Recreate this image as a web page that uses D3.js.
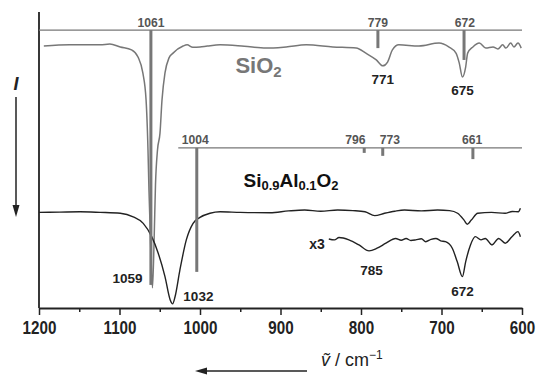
<!DOCTYPE html>
<html>
<head>
<meta charset="utf-8">
<script src="https://cdn.jsdelivr.net/npm/d3@7"></script>
<style>
  body { margin: 0; background: #fff; }
  text { font-family: "Liberation Sans", Arial, sans-serif; }
</style>
</head>
<body>
<div id="chart"></div>
<script>
const width = 536;
const height = 376;
const margin = { top: 12, right: 14, bottom: 68, left: 39 };

const gray = "#777";
const dark = "#222";

// x axis ticks (wavenumber, cm-1)
const majorTicks = [1200, 1100, 1000, 900, 800, 700, 600];
const minorTicks = [1150, 1050, 950, 850, 750, 650];

// SiO2 spectrum [wavenumber, intensity a.u.]
const sio2 = [
  [1194, 88.5], [1162, 88.9], [1124, 88.9], [1112, 89.2], [1099, 88.2], [1085, 87.2],
  [1077, 84.8], [1071, 79.4], [1067, 70.3], [1064.6, 53.4], [1063.4, 39.9], [1061.5, 23.0],
  [1059, 6.8], [1057, 23.0], [1055.3, 41.6], [1052.8, 53.4], [1049.7, 59.1], [1047.2, 70.3],
  [1043.5, 79.4], [1038.5, 84.5], [1033.5, 86.1], [1021, 88.5], [1016, 88.9], [1009, 88.1],
  [1000, 88.2], [991, 88.5], [975, 88.9], [945, 88.4], [918, 87.8], [893, 88.2], [868, 88.9],
  [835, 88.2], [806, 87.8], [794, 86.1], [781, 83.8], [773, 81.8], [767, 83.1], [761, 87.2],
  [753, 88.9], [728, 88.5], [703, 89.5], [691, 88.2], [682, 86.1], [678, 82.8], [674, 78.0],
  [670, 81.4], [667.5, 86.1], [661, 88.2], [653, 89.5], [645, 87.8], [636, 88.2], [630, 87.5],
  [624, 88.9], [620, 87.8], [614, 89.5], [610, 88.2], [605, 89.5], [601, 87.8]
];

// Si0.9Al0.1O2 spectrum
const sial = [
  [1200, 32.3], [1174, 32.4], [1149, 32.5], [1124, 32.3], [1099, 32.0], [1083, 30.8],
  [1070.5, 28.6], [1060, 24.1], [1052, 18.6], [1043.5, 10.6], [1037, 2.7], [1034, 1.4],
  [1031, 3.8], [1025, 12.8], [1017, 23.0], [1008.6, 28.6], [1000, 30.6], [987.6, 32.0],
  [975, 32.5], [950, 32.3], [913, 32.2], [890, 32.8], [870, 33.1], [850, 32.7], [829, 33.1],
  [810, 32.9], [795, 32.5], [783, 31.2], [770.8, 32.0], [758, 32.7], [746, 33.1], [725, 32.8],
  [705, 33.1], [690, 32.9], [680, 32.0], [672, 29.7], [668, 28.3], [663, 29.7], [655, 32.0],
  [638, 32.3], [621, 32.0], [612, 32.6], [604.5, 32.5], [602, 33.7]
];

// Si0.9Al0.1O2, x3 expanded
const sialX3 = [
  [840, 23.3], [833, 23.0], [827.3, 23.8], [815, 23.0], [802.5, 21.3], [790, 19.3],
  [780, 20.2], [769, 21.9], [757, 23.5], [750, 22.9], [744, 23.5], [738, 22.8], [732, 23.0],
  [725, 23.4], [719.6, 22.4], [713, 23.2], [707, 23.5], [701, 22.7], [695, 22.4],
  [686.6, 20.2], [680.4, 15.6], [674, 10.6], [670, 15.6], [664, 21.3], [658, 24.1],
  [651, 23.0], [645.6, 23.5], [637.3, 21.3], [629, 23.5], [620.8, 21.9], [612.5, 24.1],
  [605, 25.8], [602, 24.1]
];

// reference stick patterns: level of the base line, sticks [wavenumber, end]
const sio2RefLevel = 93.9;
const sio2RefFrom = 1200;
const sio2Sticks = [[1061, 7.8], [779, 87.8], [672, 83.8]];
const sio2StickLabels = [["1061", 1061], ["779", 779], ["672", 671]];

const sialRefLevel = 54.1;
const sialRefFrom = 1027;
const sialSticks = [[1004, 12.2], [796, 52.4], [773, 51.4], [661, 50.3]];
const sialStickLabels = [["1004", 1006], ["796", 807], ["773", 764], ["661", 662]];

// peak labels [text, wavenumber, intensity]
const peakLabels = [
  ["771", 773, 75.7], ["675", 674, 72.0], ["1059", 1090, 8.5],
  ["1032", 1002, 2.4], ["785", 787, 11.3], ["672", 674, 4.1]
];

const svg = d3.select("#chart").append("svg")
  .attr("width", width)
  .attr("height", height);

const x = d3.scaleLinear()
  .domain([1200, 600])
  .range([margin.left, width - margin.right]);

const y = d3.scaleLinear()
  .domain([0, 100])
  .range([height - margin.bottom, margin.top]);

const line = d3.line()
  .x(d => x(d[0]))
  .y(d => y(d[1]))
  .curve(d3.curveMonotoneX);

// axes
const xAxis = svg.append("g")
  .attr("transform", `translate(0,${y(0)})`)
  .call(d3.axisBottom(x).tickValues(majorTicks).tickSize(7).tickPadding(6).tickSizeOuter(0).tickFormat(d3.format("d")));
xAxis.select(".domain").attr("stroke-width", 1.8).attr("stroke", dark);
xAxis.selectAll(".tick line").attr("stroke-width", 1.5).attr("stroke", dark);
xAxis.selectAll(".tick text")
  .attr("font-size", 19)
  .attr("font-weight", "bold")
  .attr("fill", dark)
  .attr("font-family", "Liberation Sans, Arial, sans-serif")
  .attr("transform", "scale(0.8,1)");

const xMinor = svg.append("g")
  .attr("transform", `translate(0,${y(0)})`)
  .call(d3.axisBottom(x).tickValues(minorTicks).tickSize(4).tickFormat(""));
xMinor.select(".domain").remove();
xMinor.selectAll(".tick line").attr("stroke-width", 1.5).attr("stroke", dark);

svg.append("line")
  .attr("x1", x(1200)).attr("x2", x(1200))
  .attr("y1", y(0)).attr("y2", y(100))
  .attr("stroke", dark).attr("stroke-width", 1.8);

// reference stick patterns
function sticks(level, from, data, labels) {
  svg.append("line")
    .attr("x1", x(from)).attr("x2", x(600))
    .attr("y1", y(level)).attr("y2", y(level))
    .attr("stroke", gray).attr("stroke-width", 1.3);

  svg.selectAll(null)
    .data(data)
    .join("line")
    .attr("x1", d => x(d[0])).attr("x2", d => x(d[0]))
    .attr("y1", y(level)).attr("y2", d => y(d[1]))
    .attr("stroke", gray).attr("stroke-width", 3);

  svg.selectAll(null)
    .data(labels)
    .join("text")
    .attr("transform", d => `translate(${x(d[1])},${y(level) - 3.5}) scale(0.9,1)`)
    .attr("text-anchor", "middle")
    .attr("font-size", 13.5)
    .attr("font-weight", "bold")
    .attr("fill", "#555")
    .text(d => d[0]);
}

// spectra
svg.append("path").datum(sio2)
  .attr("d", line).attr("fill", "none")
  .attr("stroke", gray).attr("stroke-width", 1.5);

svg.append("path").datum(sial)
  .attr("d", line).attr("fill", "none")
  .attr("stroke", dark).attr("stroke-width", 1.4);

svg.append("path").datum(sialX3)
  .attr("d", line).attr("fill", "none")
  .attr("stroke", dark).attr("stroke-width", 1.4);

sticks(sio2RefLevel, sio2RefFrom, sio2Sticks, sio2StickLabels);
sticks(sialRefLevel, sialRefFrom, sialSticks, sialStickLabels);

// peak labels
svg.selectAll(null)
  .data(peakLabels)
  .join("text")
  .attr("x", d => x(d[1]))
  .attr("y", d => y(d[2]))
  .attr("text-anchor", "middle")
  .attr("font-size", 13.5)
  .attr("font-weight", "bold")
  .attr("fill", dark)
  .text(d => d[0]);

svg.append("text")
  .attr("x", x(845)).attr("y", y(20))
  .attr("text-anchor", "end")
  .attr("font-size", 14)
  .attr("font-weight", "bold")
  .attr("fill", dark)
  .text("x3");

// sample names
const sioText = svg.append("text")
  .attr("x", x(956)).attr("y", y(79.3))
  .attr("font-size", 22)
  .attr("font-weight", "bold")
  .attr("fill", gray);
sioText.append("tspan").text("SiO");
sioText.append("tspan").attr("font-size", 15).attr("dy", 4).text("2");

const alText = svg.append("text")
  .attr("x", x(946)).attr("y", y(41))
  .attr("font-size", 19)
  .attr("font-weight", "bold")
  .attr("fill", "#111");
alText.append("tspan").text("Si");
alText.append("tspan").attr("font-size", 13).attr("dy", 3).text("0.9");
alText.append("tspan").attr("dy", -3).text("Al");
alText.append("tspan").attr("font-size", 13).attr("dy", 3).text("0.1");
alText.append("tspan").attr("dy", -3).text("O");
alText.append("tspan").attr("font-size", 13).attr("dy", 3).text("2");

// y label and arrow
svg.append("text")
  .attr("x", 16).attr("y", 90)
  .attr("text-anchor", "middle")
  .attr("font-size", 18)
  .attr("font-weight", "bold")
  .attr("font-style", "italic")
  .attr("fill", dark)
  .text("I");

svg.append("line")
  .attr("x1", 16).attr("x2", 16).attr("y1", 97).attr("y2", 208)
  .attr("stroke", dark).attr("stroke-width", 1.5);
svg.append("path")
  .attr("d", "M12.5,205 L19.5,205 L16,217 Z")
  .attr("fill", dark);

// x label and arrow
svg.append("line")
  .attr("x1", 307).attr("x2", 204).attr("y1", 371).attr("y2", 371)
  .attr("stroke", dark).attr("stroke-width", 1.5);
svg.append("path")
  .attr("d", "M207,367.5 L207,374.5 L195,371 Z")
  .attr("fill", dark);

const xTitle = svg.append("text")
  .attr("x", 321).attr("y", 366)
  .attr("font-size", 18)
  .attr("fill", dark);
xTitle.append("tspan").attr("font-style", "italic").text("ṽ");
xTitle.append("tspan").text(" / cm");
xTitle.append("tspan").attr("font-size", 12).attr("dy", -7).text("−1");
</script>
</body>
</html>
